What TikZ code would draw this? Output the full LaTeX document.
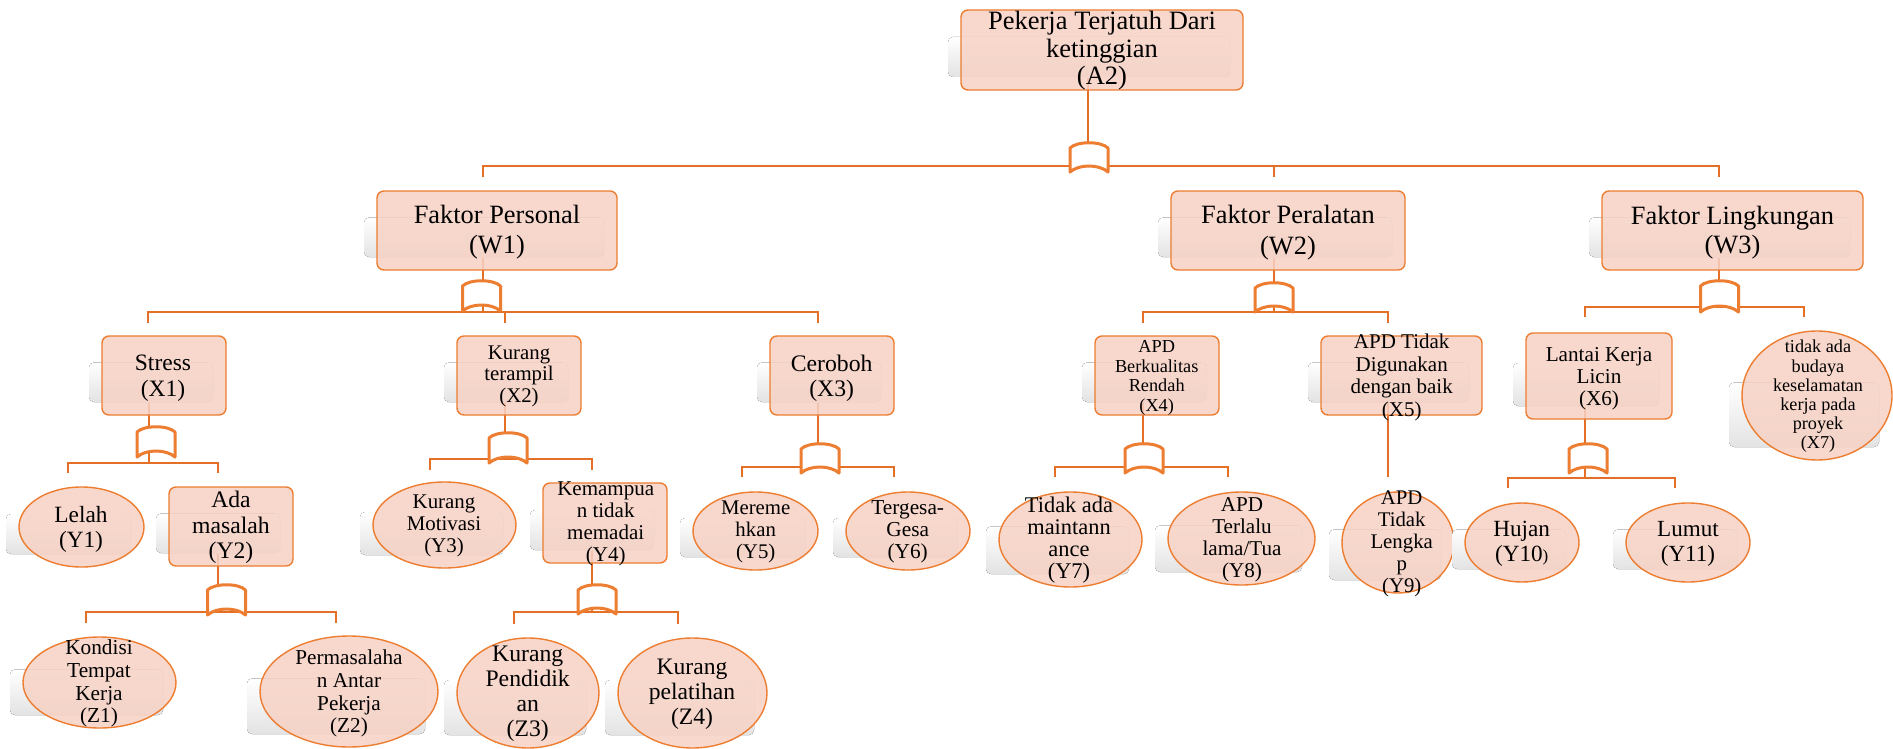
\documentclass[tikz,border=0pt]{standalone}
\usepackage{fontspec}
\setmainfont{Liberation Serif}
\usetikzlibrary{shapes.geometric,calc}

\definecolor{edgeor}{RGB}{237,125,49}
\definecolor{lineor}{RGB}{228,112,40}
\definecolor{boxfill}{RGB}{247,210,197}

\pgfdeclarelayer{bg}
\pgfdeclarelayer{lines}
\pgfsetlayers{bg,lines,main}

\tikzset{
  boxst/.style={rectangle, draw=edgeor, line width=1.4pt, fill=boxfill, fill opacity=0.85, rounded corners=7pt, inner sep=0pt},
  ellst/.style={ellipse, draw=edgeor, line width=1.4pt, fill=boxfill, fill opacity=0.85, inner sep=0pt},
  shd/.style={rounded corners=5pt, top color=white, bottom color=black!11, draw=none},
  conn/.style={draw=lineor, line width=1.6pt},
  gatest/.style={draw=edgeor, line width=3pt, fill=white, line join=round},
  txt/.style={align=center, inner sep=0pt, text=black},
}

% shape with its soft grey shadow: style, name, x1, y1, x2, y2
\newcommand\mkshape[6]{%
  \fill[shd] ({#3-13},{#6-13-0.5*(#6-#4)}) rectangle ({#5-13},{#6-13});
  \node[#1, minimum width={(#5)-(#3)}, minimum height={(#6)-(#4)}] (#2) at ({((#3)+(#5))/2},{((#4)+(#6))/2}) {};
}
% label text: name, cx, cy, size, skip, text
\newcommand\mktext[6]{%
  \node[txt, font=\fontsize{#4}{#5}\selectfont] (#1) at (#2,#3) {#6};
}
% gate symbol: cx, top, bottom
\newcommand\mkgate[3]{%
  \draw[gatest] ({#1-19},#3) -- ({#1-19},{#2+6}) .. controls ({#1-12},{#2-1}) and ({#1+12},{#2-1}) .. ({#1+19},{#2+6}) -- ({#1+19},#3) .. controls ({#1+10},{#3-8}) and ({#1-10},{#3-8}) .. cycle;
}

\begin{document}
\begin{tikzpicture}[x=1pt,y=-1pt]
\useasboundingbox (0,0) rectangle (1893,749);
\begin{pgfonlayer}{bg}
  \fill[white] (0,0) rectangle (1893,749);
\end{pgfonlayer}

% ---------- shapes ----------
\mkshape{boxst}{A2}{961}{10}{1243}{90}
\mkshape{boxst}{W1}{377}{191}{617}{270}
\mkshape{boxst}{W2}{1171}{191}{1405}{270}
\mkshape{boxst}{W3}{1602}{191}{1863}{270}
\mkshape{boxst}{X1}{102}{336}{226}{415}
\mkshape{boxst}{X2}{457}{336}{581}{415}
\mkshape{boxst}{X3}{770}{336}{894}{415}
\mkshape{boxst}{X4}{1095}{336}{1219}{415}
\mkshape{boxst}{X5}{1321}{336}{1482}{415}
\mkshape{boxst}{X6}{1526}{333}{1672}{419}
\mkshape{ellst}{X7}{1742}{331}{1892}{460}
\mkshape{ellst}{Y1}{19}{487}{144}{567}
\mkshape{boxst}{Y2}{169}{487}{293}{566}
\mkshape{ellst}{Y3}{373}{482}{516}{568}
\mkshape{boxst}{Y4}{543}{483}{667}{563}
\mkshape{ellst}{Y5}{693}{492}{818}{570}
\mkshape{ellst}{Y6}{846}{492}{970}{570}
\mkshape{ellst}{Y7}{999}{492}{1142}{587}
\mkshape{ellst}{Y8}{1168}{492}{1315}{585}
\mkshape{ellst}{Y9}{1342}{492}{1454}{593}
\mkshape{ellst}{Y10}{1465}{503}{1579}{582}
\mkshape{ellst}{Y11}{1626}{503}{1750}{582}
\mkshape{ellst}{Z1}{23}{637}{176}{728}
\mkshape{ellst}{Z2}{260}{636}{438}{747}
\mkshape{ellst}{Z3}{457}{638}{599}{748}
\mkshape{ellst}{Z4}{618}{638}{767}{748}

% ---------- junctions and stub ends ----------
\coordinate (jA) at (1088,166);
\coordinate (sW1) at (483,177);  \coordinate (sW2) at (1274,177); \coordinate (sW3) at (1719,177);
\coordinate (jW1) at (483,312);
\coordinate (sX1) at (148,323);  \coordinate (sX2) at (505,323);  \coordinate (sX3) at (818,323);
\coordinate (jW2) at (1274,312);
\coordinate (sX4) at (1143,323); \coordinate (sX5) at (1388,323);
\coordinate (jW3) at (1719,307);
\coordinate (sX6) at (1585,317); \coordinate (sX7) at (1804,317);
\coordinate (jX1) at (149,463);
\coordinate (sY1) at (68,473);   \coordinate (sY2) at (218,473);
\coordinate (jX2) at (505,459);
\coordinate (sY3) at (430,470);  \coordinate (sY4) at (592,470);
\coordinate (jX3) at (818,467);
\coordinate (sY5) at (742,477);  \coordinate (sY6) at (894,477);
\coordinate (jX4) at (1143,467);
\coordinate (sY7) at (1055,477); \coordinate (sY8) at (1228,477);
\coordinate (eX5) at (1388,477);
\coordinate (jX6) at (1585,478);
\coordinate (sY10) at (1508,488); \coordinate (sY11) at (1675,488);
\coordinate (jY2) at (218,612);
\coordinate (sZ1) at (86,623);   \coordinate (sZ2) at (336,623);
\coordinate (jY4) at (592,612);
\coordinate (sZ3) at (514,624);  \coordinate (sZ4) at (678,624);

% ---------- connectors ----------
\begin{pgfonlayer}{lines}
  \draw[conn] ($(A2.south -| jA)+(0,-13)$) -- (jA);
  \draw[conn] (sW1) -- ++(0,-11) -| (sW3);
  \draw[conn] (sW2) -- ++(0,-11);

  \draw[conn] ($(W1.south -| jW1)+(0,-13)$) -- (jW1);
  \draw[conn] (sX1) -- ++(0,-11) -| (sX3);
  \draw[conn] (sX2) -- ++(0,-11);

  \draw[conn] ($(W2.south -| jW2)+(0,-13)$) -- (jW2);
  \draw[conn] (sX4) -- ++(0,-11) -| (sX5);

  \draw[conn] ($(W3.south -| jW3)+(0,-13)$) -- (jW3);
  \draw[conn] (sX6) -- ++(0,-10) -| (sX7);

  \draw[conn] ($(X1.south -| jX1)+(0,-13)$) -- (jX1);
  \draw[conn] (sY1) -- ++(0,-10) -| (sY2);

  \draw[conn] ($(X2.south -| jX2)+(0,-13)$) -- (jX2);
  \draw[conn] (sY3) -- ++(0,-11) -| (sY4);

  \draw[conn] ($(X3.south -| jX3)+(0,-13)$) -- (jX3);
  \draw[conn] (sY5) -- ++(0,-10) -| (sY6);

  \draw[conn] ($(X4.south -| jX4)+(0,-13)$) -- (jX4);
  \draw[conn] (sY7) -- ++(0,-10) -| (sY8);

  \draw[conn] ($(X5.south -| eX5)+(0,-13)$) -- (eX5);

  \draw[conn] ($(X6.south -| jX6)+(0,-13)$) -- (jX6);
  \draw[conn] (sY10) -- ++(0,-10) -| (sY11);

  \draw[conn] ($(Y2.south -| jY2)+(0,-13)$) -- (jY2);
  \draw[conn] (sZ1) -- ++(0,-11) -| (sZ2);

  \draw[conn] ($(Y4.south -| jY4)+(0,-13)$) -- (jY4);
  \draw[conn] (sZ3) -- ++(0,-12) -| (sZ4);
\end{pgfonlayer}

% ---------- gates ----------
\mkgate{1089}{142}{172}
\mkgate{481.5}{280}{311}
\mkgate{1274}{282}{312}
\mkgate{1719.5}{280}{312}
\mkgate{156}{426}{457}
\mkgate{508}{432}{463}
\mkgate{820}{443}{473}
\mkgate{1144}{443}{473}
\mkgate{1588}{443}{473}
\mkgate{226.5}{584}{615}
\mkgate{597}{584}{614}

% ---------- labels ----------
\mktext{tA2}{1102}{50.9}{26.5}{27.5}{Pekerja Terjatuh Dari\\ketinggian\\(A2)}
\mktext{tW1}{497}{232.4}{26.4}{30}{Faktor Personal\\(W1)}
\mktext{tW2}{1288}{232.9}{26.4}{31}{Faktor Peralatan\\(W2)}
\mktext{tW3}{1732.5}{232.9}{26.4}{29}{Faktor Lingkungan\\(W3)}
\mktext{tX1}{163}{377.8}{23.5}{26}{Stress\\(X1)}
\mktext{tX2}{519}{376.3}{20.8}{21.5}{Kurang\\terampil\\(X2)}
\mktext{tX3}{831.7}{378.3}{23.7}{25}{Ceroboh\\(X3)}
\mktext{tX4}{1156.7}{377.7}{18.3}{19.5}{APD\\Berkualitas\\Rendah\\(X4)}
\mktext{tX5}{1401.7}{377.6}{21}{22.5}{APD Tidak\\Digunakan\\dengan baik\\(X5)}
\mktext{tX6}{1599}{378.7}{21.2}{22}{Lantai Kerja\\Licin\\(X6)}
\mktext{tX7}{1818}{396.5}{18.2}{19.2}{tidak ada\\budaya\\keselamatan\\kerja pada\\proyek\\(X7)}
\mktext{tY1}{81}{529.5}{23.3}{25.3}{Lelah\\(Y1)}
\mktext{tY2}{231}{527.6}{23.7}{25.5}{Ada\\masalah\\(Y2)}
\mktext{tY3}{444}{525.8}{20.9}{22}{Kurang\\Motivasi\\(Y3)}
\mktext{tY4}{605.7}{523.9}{21}{21.7}{Kemampua\\n tidak\\memadai\\(Y4)}
\mktext{tY5}{755.7}{531.8}{20.8}{22}{Mereme\\hkan\\(Y5)}
\mktext{tY6}{907.7}{531.8}{21.3}{22}{Tergesa-\\Gesa\\(Y6)}
\mktext{tY7}{1069}{540.3}{22.4}{22.1}{Tidak ada\\maintann\\ance\\(Y7)}
\mktext{tY8}{1242}{539.7}{21.1}{22.2}{APD\\Terlalu\\lama/Tua\\(Y8)}
\mktext{tY9}{1401.7}{543.7}{20.8}{21.9}{APD\\Tidak\\Lengka\\p\\(Y9)}
\mktext{tY10}{1521.7}{543.7}{23.2}{25}{Hujan\\(Y10{\fontsize{17}{17}\selectfont)}}
\mktext{tY11}{1688}{543.7}{23.1}{25}{Lumut\\(Y11)}
\mktext{tZ1}{99}{683.7}{21.3}{22.7}{Kondisi\\Tempat\\Kerja\\(Z1)}
\mktext{tZ2}{349}{693.7}{21.2}{22.7}{Permasalaha\\n Antar\\Pekerja\\(Z2)}
\mktext{tZ3}{527.7}{693.3}{23.7}{25}{Kurang\\Pendidik\\an\\(Z3)}
\mktext{tZ4}{692}{694.1}{23.6}{25}{Kurang\\pelatihan\\(Z4)}
\end{tikzpicture}
\end{document}
